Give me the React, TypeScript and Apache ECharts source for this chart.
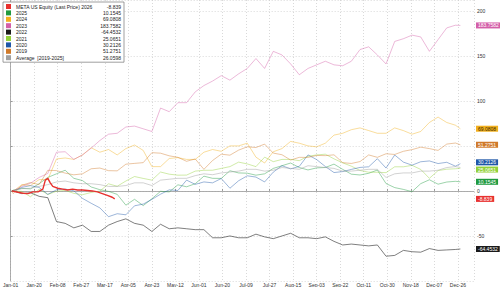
import React, { useEffect, useRef } from "react";
import * as echarts from "echarts";

// x positions: day of year (0 = Jan-01)
const days = [1, 2, 9, 16, 23, 30, 37, 44, 51, 58, 65, 72, 79, 86, 93, 100, 107, 114, 121, 128, 135, 142, 149, 156, 163, 170, 177, 184, 191, 198, 205, 212, 219, 226, 233, 240, 247, 254, 261, 268, 275, 282, 289, 296, 303, 310, 317, 324, 331, 338, 345, 352, 359, 363];
const days2026 = [1, 6, 10, 14, 18, 22, 26, 28, 30, 32, 34, 38, 42, 46, 50, 54, 58, 62, 66, 70, 74, 78, 82, 84];

const tickLabels = ["Jan-01", "Jan-20", "Feb-08", "Feb-27", "Mar-17", "Apr-05", "Apr-23", "May-12", "Jun-01", "Jun-20", "Jul-09", "Jul-27", "Aug-15", "Sep-03", "Sep-22", "Oct-11", "Oct-30", "Nov-18", "Dec-07", "Dec-26"];

const y2026 = [0, -1.5, -2.5, -3, -1, -1, 2, 12, 14, 9, 5, 3, 2, 1, 2, 1, 1, 0.5, 0, -1, -3, -5, -7, -8.839];
const y2025 = [0, 0.9, 2.8, 2.3, 8, 15, 19, 23, 14, 11.5, 4.4, 1.4, -0.5, -3.8, -15.8, -9.3, -16.3, -8.7, -0.4, -1.1, 6.8, 4.6, 8, 16.4, 14, 13.9, 22.4, 20, 19.7, 17.5, 19, 25, 28, 31, 26, 23.3, 25.6, 26, 29.8, 24, 18.6, 17.7, 19.6, 23.2, 8.2, 3.7, 1.7, -0.8, 8.1, 12.4, 7.5, 9.9, 10.7, 10.1545];
const y2024 = [0, -0.5, 7, 6, 12.6, 12.6, 35.5, 36.6, 35, 40, 48, 43, 46, 40, 47, 51, 45, 27, 27, 36, 37, 35, 35, 43, 46, 44, 50, 50, 53, 37.5, 31, 43.5, 47, 55, 53, 50, 49, 53, 62, 64, 68, 70, 67, 64, 64, 70, 67, 63, 66, 76, 82, 76, 73, 69.0808];
const y2023 = [0, 0, 5, 8.5, 15, 19.4, 43, 43.5, 35, 40, 47.5, 56, 63, 64, 71, 72, 69, 66, 92, 88, 98, 98, 110, 117, 122, 128, 123, 130, 136, 147, 136, 155, 151, 141, 129, 136, 140, 144, 140, 139, 144, 157, 160, 151, 141, 166, 169, 173, 171, 155, 168, 181, 184, 183.7582];
const y2022 = [0, 0, -3, -2, -6, -7.5, -34, -36, -41, -38, -45, -45, -38, -34, -31, -36, -38, -45, -37, -42, -41, -42, -43, -43, -52, -52, -50, -52, -52, -48, -51, -53, -50, -47, -52, -52, -53, -51, -56, -60, -59, -60, -61, -60, -72.5, -71.6, -66, -67.5, -68, -64, -66, -65.5, -65, -64.4532];
const y2021 = [0, 0, -0.5, -6.5, 2, -4, -0.3, 0.6, -2.7, -4.2, -1.7, -0.2, 7.9, 5.2, 11, 16, 13.9, 12, 21, 18.6, 17.5, 17.6, 22, 22.9, 23, 25, 27, 32, 30, 27, 37.5, 32.5, 35, 35, 33.6, 38.5, 40, 40.8, 35.6, 31.2, 27.5, 22.7, 20.8, 20.7, 20.3, 26.8, 26.8, 28.4, 23.9, 14, 22.6, 24.1, 24.6, 25.0651];
const y2020 = [0, -0.5, 3.9, 5.9, 3.9, -3.8, 1.2, 2.1, 0.2, -8.3, -13.7, -18.8, -28.6, -25.3, -26.5, -16.5, -14.6, -9.4, -3.6, 1.2, 0.5, 12, 7.3, 10, 9, 13.8, 3, 11.3, 16.8, 15.4, 10, 20.9, 28, 24.5, 27.3, 40, 34.8, 27.1, 20.4, 21.5, 23.9, 26.1, 26.8, 35.8, 25.4, 39.9, 32, 28.6, 32.4, 33.3, 30.4, 31.8, 27.5, 30.2126];
const y2019 = [0, -2.9, 6.3, 9.3, 7.1, 22.9, 22.6, 19.8, 17.9, 19, 24.6, 25.4, 22.5, 22.3, 29.7, 30.6, 31.4, 42.5, 41.9, 39, 37.3, 32.9, 35.5, 24, 33.8, 40.8, 39.7, 45.3, 49, 48.2, 52, 42, 40.2, 34.3, 37.3, 37.2, 39.4, 39.2, 40.1, 31.4, 30.5, 32.6, 40, 37.3, 41.3, 40.5, 44, 45.9, 48.6, 47, 45, 52, 53.2, 51.2751];
const yAvg = [0, 0, 2.5, 3, 5, 7, 10, 11, 9, 8, 8, 7, 5, 5, 6, 9, 9, 6, 12, 13, 14, 14, 17, 19, 18, 20, 21, 22, 24, 24, 22, 23, 26, 25, 24, 28, 27, 26, 25, 22, 22, 23, 24, 24, 15, 19, 20, 20, 22, 22, 23, 26, 27, 26.0598];

const seriesNames = ["META US Equity (Last Price) 2026", "2025", "2024", "2023", "2022", "2021", "2020", "2019", "Average  [2019-2025]"];
const legendValues = ["-8.839", "10.1545", "69.0808", "183.7582", "-64.4532", "25.0651", "30.2126", "51.2751", "26.0598"];
const colors = ["#e8312f", "#1f9a3f", "#f2b01e", "#d45fa8", "#1a1a1a", "#93d13a", "#1f57a8", "#d07a2a", "#a0a0a0"];
const tagText = ["#fff", "#fff", "#3a2800", "#fff", "#fff", "#fff", "#fff", "#fff", "#fff"];
const tagShift = [0, 0, 0, 0, 0, 1.2, -1.4, 0, 0];

const FONT = "Liberation Sans";

export default function App() {
  const ref = useRef<HTMLDivElement>(null);
  useEffect(() => {
    if (!ref.current) return;
    const chart = echarts.init(ref.current, null, { renderer: "svg" });
    const values = [y2026, y2025, y2024, y2023, y2022, y2021, y2020, y2019, yAvg];
    const series: any[] = values.map((vals, i) => {
      const xs = i === 0 ? days2026 : days;
      const data = vals.map((v, j) => [xs[j], v]);
      const last = vals[vals.length - 1];
      const isAvg = i === 8;
      const s: any = {
        name: seriesNames[i],
        type: "line",
        data,
        symbol: "none",
        z: i === 0 ? 10 : 2,
        itemStyle: { color: colors[i] },
        lineStyle: {
          color: colors[i],
          width: i === 0 ? 1.4 : 0.8,
          opacity: i === 0 ? 1 : i === 4 ? 0.7 : isAvg ? 0.6 : 0.55,
        },
      };
      if (!isAvg) {
        s.markLine = {
          silent: true,
          symbol: ["none", "none"],
          lineStyle: { color: "rgba(0,0,0,0)", width: 0.1, type: "solid" },
          label: {
            show: true,
            position: "end",
            distance: 2,
            offset: [0, tagShift[i]],
            formatter: String(last),
            backgroundColor: colors[i],
            color: tagText[i],
            opacity: 1,
            fontSize: 5,
            lineHeight: 5.5,
            fontFamily: FONT,
            padding: [0.5, 2, 0, 2],
          },
          data: [{ yAxis: last }],
        };
      }
      return s;
    });
    const valueMap: Record<string, string> = {};
    seriesNames.forEach((n, i) => (valueMap[n] = legendValues[i]));
    chart.setOption({
      animation: false,
      backgroundColor: "#fff",
      grid: { left: 8, right: 26, top: 0, bottom: 4.5, containLabel: false },
      legend: {
        data: seriesNames,
        orient: "vertical",
        left: 3,
        top: 2,
        itemWidth: 5,
        itemHeight: 5,
        itemGap: 1.4,
        icon: "rect",
        padding: [2, 3, 2, 3],
        backgroundColor: "#fff",
        borderColor: "#777",
        borderWidth: 0.7,
        selectedMode: false,
        formatter: (name: string) => `{n|${name}}{v|${valueMap[name]}}`,
        textStyle: {
          fontSize: 5,
          fontFamily: FONT,
          color: "#222",
          rich: {
            n: { fontSize: 5, fontFamily: FONT, color: "#222", width: 80 },
            v: { fontSize: 5, fontFamily: FONT, color: "#222", width: 25, align: "right" },
          },
        },
      },
      xAxis: {
        type: "value",
        min: 0,
        max: 374,
        interval: 19,
        axisLine: { show: true, lineStyle: { color: "#999", width: 0.8 } },
        axisTick: { show: true, length: 2, inside: true, lineStyle: { color: "#999" } },
        axisLabel: {
          fontSize: 5,
          fontFamily: FONT,
          color: "#333",
          margin: 1,
          showMaxLabel: false,
          formatter: (v: number) => {
            if (v % 19 !== 0) return "";
            return tickLabels[v / 19] ?? "";
          },
        },
        splitLine: { show: true, lineStyle: { color: "#c8c8c8", type: [1, 2], width: 0.7 } },
      },
      yAxis: {
        type: "value",
        position: "right",
        min: -100,
        max: 212,
        interval: 50,
        axisLine: { show: true, lineStyle: { color: "#999", width: 0.8 } },
        axisTick: { show: true, length: 2, lineStyle: { color: "#999" } },
        axisLabel: {
          fontSize: 5,
          fontFamily: FONT,
          color: "#333",
          margin: 3,
          showMinLabel: false,
          showMaxLabel: false,
          formatter: (v: number) => (v === 50 || v === -100 || v === 212 ? "" : String(v)),
        },
        splitLine: { show: true, lineStyle: { color: "#c8c8c8", type: [1, 2], width: 0.7 } },
      },
      series,
    });
    return () => chart.dispose();
  }, []);
  return <div ref={ref} style={{ width: 500, height: 287, position: "absolute", left: 0, top: 0 }} />;
}
